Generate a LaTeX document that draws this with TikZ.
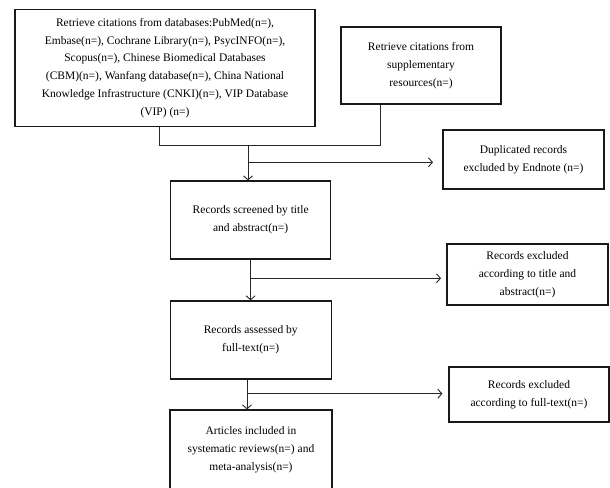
\documentclass[tikz,border=0pt]{standalone}
\usepackage{fontspec}
\setmainfont{Liberation Serif}
\usetikzlibrary{arrows.meta}
\begin{document}
\begin{tikzpicture}[x=1pt,y=-1pt,
  box/.style={draw=black!90,line width=1.2pt,rectangle,align=center,inner sep=0pt,
    font=\fontsize{11.5}{17.8}\selectfont},
  conn/.style={draw=black!85,line width=0.9pt},
  arr/.style={conn,-{Straight Barb[length=4pt,width=9pt,line width=0.9pt]}}]
\useasboundingbox (0,0) rectangle (610,487);
% boxes: centre, width, height
\node[box,minimum width=300pt,minimum height=117pt] (src) at (165,68)
  {Retrieve citations from databases:PubMed(n=),\\Embase(n=), Cochrane Library(n=), PsycINFO(n=),\\Scopus(n=), Chinese Biomedical Databases\\(CBM)(n=), Wanfang database(n=), China National\\Knowledge Infrastructure (CNKI)(n=), VIP Database\\(VIP) (n=)};
\node[box,minimum width=160pt,minimum height=77pt] (sup) at (421,65.5)
  {Retrieve citations from\\supplementary\\resources(n=)};
\node[box,minimum width=161pt,minimum height=59pt] (dup) at (523.5,159.5)
  {Duplicated records\\excluded by Endnote (n=)};
\node[box,minimum width=160pt,minimum height=78pt] (scr) at (250.7,220)
  {Records screened by title\\and abstract(n=)};
\node[box,minimum width=161pt,minimum height=61pt] (exa) at (527.5,274.5)
  {Records excluded\\according to title and\\abstract(n=)};
\node[box,minimum width=161pt,minimum height=78pt] (ass) at (250.7,340)
  {Records assessed by\\full-text(n=)};
\node[box,minimum width=160pt,minimum height=55pt] (exf) at (529,394.5)
  {Records excluded\\according to full-text(n=)};
\node[box,minimum width=162pt,minimum height=80pt] (inc) at (251,450)
  {Articles included in\\systematic reviews(n=) and\\meta-analysis(n=)};
% junctions
\coordinate (j1) at (159,145);
\coordinate (j2) at (380.7,145);
\coordinate (m1) at (248,145);
\coordinate (b1) at (248,162.3);
\coordinate (t1) at (433,162.3);
\coordinate (m2) at (250.6,259);
\coordinate (b2) at (250.6,278.3);
\coordinate (t2) at (441,278.3);
\coordinate (m3) at (247,379);
\coordinate (b3) at (247,393.7);
\coordinate (t3) at (442.4,393.7);
% connectors
\draw[conn] (j1 |- src.south) -- (j1) -- (j2) -- (j2 |- sup.south);
\draw[arr] (m1) -- (m1 |- scr.north);
\draw[arr] (b1) -- (t1);
\draw[arr] (m2 |- scr.south) -- (m2 |- ass.north);
\draw[arr] (b2) -- (t2);
\draw[arr] (m3 |- ass.south) -- (m3 |- inc.north);
\draw[arr] (b3) -- (t3);
\end{tikzpicture}
\end{document}
